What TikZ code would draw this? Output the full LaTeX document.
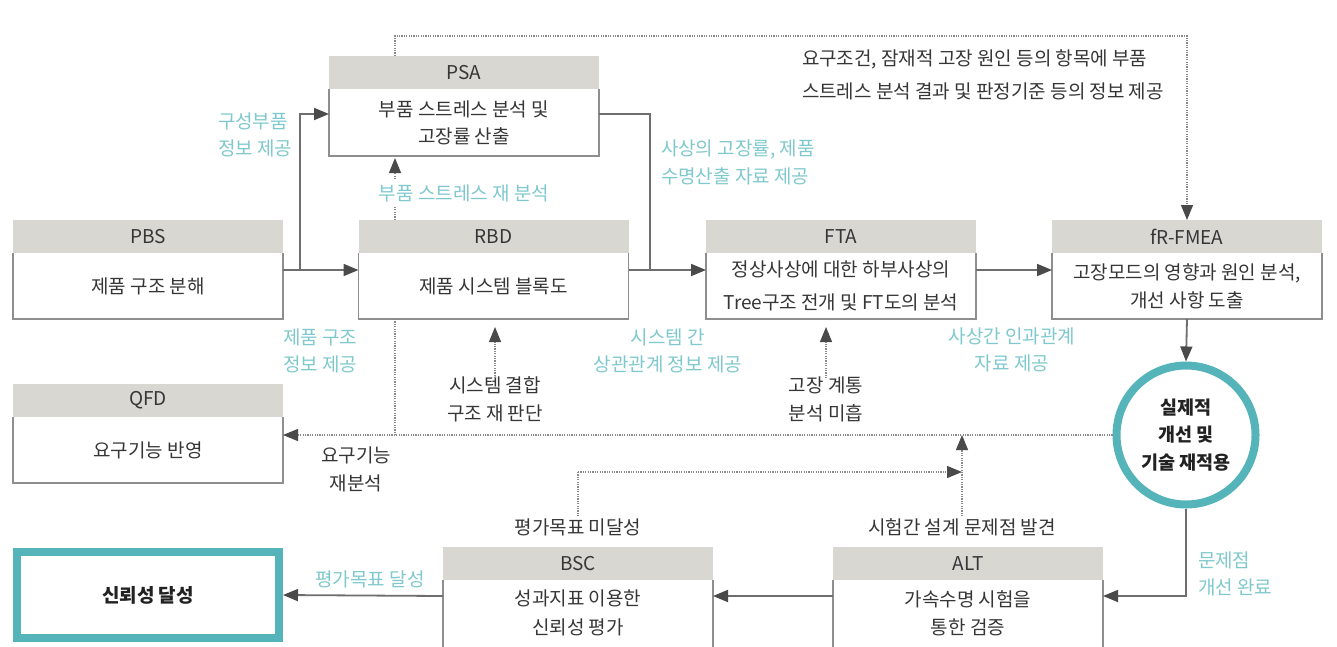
\documentclass[tikz,border=0pt]{standalone}
\usepackage{fontspec}
\setmainfont{Noto Sans CJK KR}
\usetikzlibrary{arrows.meta,calc}
\definecolor{hdrfill}{HTML}{D8D7D2}
\definecolor{boxline}{HTML}{8E8E8E}
\definecolor{txt}{HTML}{363636}
\definecolor{boldtxt}{HTML}{222222}
\definecolor{tealtxt}{HTML}{7FC9CE}
\definecolor{ring}{HTML}{55B4B9}
\definecolor{connc}{HTML}{6E6E6E}
\definecolor{tipc}{HTML}{4A4A4A}
\definecolor{dotc}{HTML}{8A8A8A}
\newcommand\boxsides[1]{\draw[side] (#1.north west) -- (#1.south west) -- (#1.south east) -- (#1.north east);}
\begin{document}
\begin{tikzpicture}[x=1pt,y=-1pt,
  every node/.style={font=\fontsize{19}{27}\selectfont, text=txt, inner sep=0pt, outer sep=0pt},
  hdr/.style={fill=hdrfill, minimum width=270pt, minimum height=33pt, anchor=north},
  bodyn/.style={minimum width=270pt, minimum height=66pt, anchor=north, align=center},
  side/.style={draw=boxline, line width=1.6pt},
  lab/.style={inner sep=2pt, align=center},
  tl/.style={lab, text=tealtxt},
  plainline/.style={draw=connc, line width=1.8pt},
  conn/.style={plainline, -{Triangle[length=15pt,width=12pt,color=tipc]}},
  dotn/.style={draw=dotc, line width=1.2pt, dash pattern=on 1.2pt off 1.2pt},
  dotl/.style={dotn, -{Triangle[length=15pt,width=12pt,color=tipc]}}]
\fill[white] (0,0) rectangle (1337,646);
\useasboundingbox (0,0) rectangle (1337,646);

% boxes
\node[hdr] (pbsh) at (148,220) {PBS};
\node[bodyn] (pbs) at (pbsh.south) {제품 구조 분해};
\boxsides{pbs}
\node[hdr] (rbdh) at (493.5,220) {RBD};
\node[bodyn] (rbd) at (rbdh.south) {제품 시스템 블록도};
\boxsides{rbd}
\node[hdr] (ftah) at (841,220) {FTA};
\node[bodyn, font=\fontsize{19}{33}\selectfont] (fta) at (ftah.south) {정상사상에 대한 하부사상의\\Tree구조 전개 및 FT도의 분석};
\boxsides{fta}
\node[hdr] (fmeah) at (1187,220) {fR-FMEA};
\node[bodyn, font=\fontsize{19}{28}\selectfont] (fmea) at (fmeah.south) {고장모드의 영향과 원인 분석,\\개선 사항 도출};
\boxsides{fmea}
\node[hdr] (psah) at (464,56) {PSA};
\node[bodyn, minimum height=67pt] (psa) at (psah.south) {부품 스트레스 분석 및\\고장률 산출};
\boxsides{psa}
\node[hdr] (qfdh) at (148,384) {QFD};
\node[bodyn] (qfd) at (qfdh.south) {요구기능 반영};
\boxsides{qfd}
\node[hdr] (bsch) at (578,547) {BSC};
\node[bodyn, font=\fontsize{19}{29}\selectfont] (bsc) at (bsch.south) {성과지표 이용한\\신뢰성 평가};
\draw[side] (bsc.north west) -- ([yshift=-14pt]bsc.south west);
\draw[side] (bsc.north east) -- ([yshift=-14pt]bsc.south east);
\node[hdr] (alth) at (968,547) {ALT};
\node[bodyn, font=\fontsize{19}{28}\selectfont] (alt) at (alth.south) {가속수명 시험을\\통한 검증};
\draw[side] (alt.north west) -- ([yshift=-14pt]alt.south west);
\draw[side] (alt.north east) -- ([yshift=-14pt]alt.south east);

\node[draw=ring, line width=8pt, minimum width=262pt, minimum height=86pt, outer sep=4pt,
  font=\bfseries\fontsize{19}{27}\selectfont, text=boldtxt] (goal) at (148,595) {신뢰성 달성};
\node[circle, draw=ring, line width=8pt, minimum size=139pt, outer sep=4pt, align=center,
  font=\bfseries\fontsize{18.5}{27.5}\selectfont, text=boldtxt] (circ) at (1186,435) {실제적\\개선 및\\기술 재적용};

% helper coordinates
\coordinate (xL) at (395,0);
\coordinate (j1) at (300,270);
\coordinate (j2) at (650,270);
\coordinate (topY) at (0,36);
\coordinate (midY) at (0,472);

% solid connectors
\draw[conn] ([yshift=-17pt]pbs.north east) -- ([yshift=-17pt]rbd.north west);
\draw[conn] (j1) |- ([yshift=-25pt]psa.north west);
\draw[plainline] ([yshift=-25pt]psa.north east) -| (j2);
\draw[conn] ([yshift=-17pt]rbd.north east) -- ([yshift=-17pt]fta.north west);
\draw[conn] ([yshift=-17pt]fta.north east) -- ([yshift=-17pt]fmea.north west);
\draw[conn] (fmea.south) -- (circ.north);
\draw[conn] (circ.south) |- ([yshift=-16pt]alt.north east);
\draw[conn] ([yshift=-16pt]alt.north west) -- ([yshift=-16pt]bsc.north east);
\draw[conn] ([yshift=-16pt]bsc.north west) -- (goal.east);

% dotted connectors
\draw[dotl] ([xshift=-69pt]psah.north) |- (fmeah.north |- topY) -- (fmeah.north);
\draw[dotl, shorten >=2pt] (rbdh.north -| xL) -- (psa.south -| xL);
\draw[dotn] (rbd.south -| xL) -- (xL |- circ.west);
\draw[dotl] (circ.west) -- (qfd.east |- circ.west);

% labels (black)
\node[lab, align=left, anchor=west, font=\fontsize{19}{33}\selectfont] (note) at (800,74.5) {요구조건, 잠재적 고장 원인 등의 항목에 부품\\스트레스 분석 결과 및 판정기준 등의 정보 제공};
\node[lab, font=\fontsize{19}{28}\selectfont] (req) at (356,469) {요구기능\\재분석};
\node[lab, font=\fontsize{19}{28}\selectfont] (sysl) at (495,399) {시스템 결합\\구조 재 판단};
\node[lab, font=\fontsize{19}{28}\selectfont] (fail) at (826,399) {고장 계통\\분석 미흡};
\node[lab] (miss) at (578,527) {평가목표 미달성};
\node[lab] (found) at (962,527) {시험간 설계 문제점 발견};

\draw[dotl, shorten >=8pt, shorten <=-4pt] (sysl.north) -- (rbd.south -| sysl.north);
\draw[dotl, shorten >=8pt, shorten <=-4pt] (fail.north) -- (fta.south -| fail.north);
\draw[dotn] (miss.north) -- (miss.north |- midY);
\draw[dotl] (miss.north |- midY) -- (found.north |- midY);
\draw[dotl] (found.north) -- (found.north |- circ.west);

% labels (teal)
\node[tl, align=left, anchor=west] (l1) at (216,134.5) {구성부품\\정보 제공};
\node[tl, fill=white, inner sep=4pt] (l2) at (464,193) {부품 스트레스 재 분석};
\node[tl, align=left, anchor=west, font=\fontsize{19}{28}\selectfont] (l3) at (659,162) {사상의 고장률, 제품\\수명산출 자료 제공};
\node[tl, align=left, anchor=west] (l4) at (281,350.5) {제품 구조\\정보 제공};
\node[tl] (l5) at (668,350.5) {시스템 간\\상관관계 정보 제공};
\node[tl] (l6) at (1012,349.5) {사상간 인과관계\\자료 제공};
\node[tl, align=left, anchor=west] (l7) at (1196,573.5) {문제점\\개선 완료};
\node[tl] (l8) at (370,579) {평가목표 달성};
\end{tikzpicture}
\end{document}
